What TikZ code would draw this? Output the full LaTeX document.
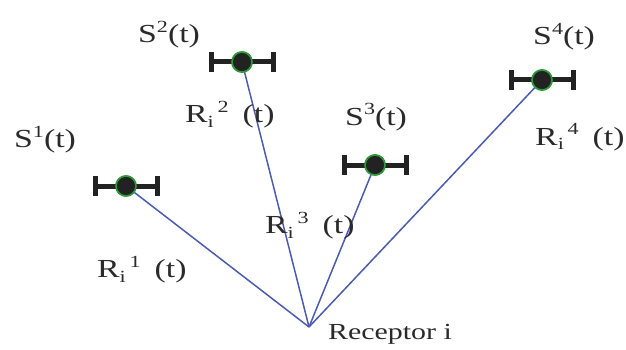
\documentclass[tikz,border=0pt]{standalone}
\usepackage{fontspec}
\usepackage{graphicx}
\setmainfont{Liberation Serif}
\definecolor{linkblue}{HTML}{4A5BB5}
\definecolor{satgreen}{HTML}{2E9A3A}
\definecolor{satdark}{HTML}{222222}
\definecolor{txtgray}{HTML}{2A2A2A}
\newcommand\wx[1]{\scalebox{1.3}[1]{#1}}
\newcommand\upx[1]{\raisebox{10pt}{\fontsize{17}{17}\selectfont #1}}
\newcommand\dnx[1]{\raisebox{-5pt}{\fontsize{17}{17}\selectfont #1}}
\tikzset{
  lab/.style={inner sep=0pt, anchor=base west, text=txtgray, font=\fontsize{26}{30}\selectfont},
  link/.style={draw=linkblue, line width=1.5pt},
  bar/.style={draw=satdark, line width=5pt},
  dot/.style={circle, fill=satdark, draw=satgreen, line width=1.6pt, minimum size=20pt, inner sep=0pt},
  pics/sat/.style={code={
    \draw[bar] (-33,0) -- (33,0);
    \draw[bar] (-31,-10) -- (-31,10);
    \draw[bar] (31,-10) -- (31,10);
  }}
}
\begin{document}
\begin{tikzpicture}[x=1pt,y=-1pt]
\useasboundingbox (0,0) rectangle (626,350);
\coordinate (rx) at (309,327);
\node[dot] (c1) at (126,186) {};
\node[dot] (c2) at (242,62) {};
\node[dot] (c3) at (375,165) {};
\node[dot] (c4) at (542,80) {};
\draw[link] (rx) -- (c1.center);
\draw[link] (rx) -- (c2.center);
\draw[link] (rx) -- (c3.center);
\draw[link] (rx) -- (c4.center);
\pic at (c1) {sat};
\pic at (c2) {sat};
\pic at (c3) {sat};
\pic at (c4) {sat};
\node[dot] at (c1) {};
\node[dot] at (c2) {};
\node[dot] at (c3) {};
\node[dot] at (c4) {};
\node[lab] (s1) at (14,147) {\wx{S\upx{1}(t)}};
\node[lab] (s2) at (138,43) {\wx{S\upx{2}(t)}};
\node[lab] (s3) at (345,125) {\wx{S\upx{3}(t)}};
\node[lab] (s4) at (533,45) {\wx{S\upx{4}(t)}};
\node[lab] (r1) at (97,277) {\wx{R\dnx{i}\upx{\,1}\ \,(t)}};
\node[lab] (r2) at (185,123) {\wx{R\dnx{i}\upx{\,2}\ \,(t)}};
\node[lab] (r3) at (265,233) {\wx{R\dnx{i}\upx{\,3}\ \,(t)}};
\node[lab] (r4) at (535,145) {\wx{R\dnx{i}\upx{\,4}\ \,(t)}};
\node[lab, font=\fontsize{23}{27}\selectfont] (rc) at (328,339) {\wx{Receptor i}};
\end{tikzpicture}
\end{document}
